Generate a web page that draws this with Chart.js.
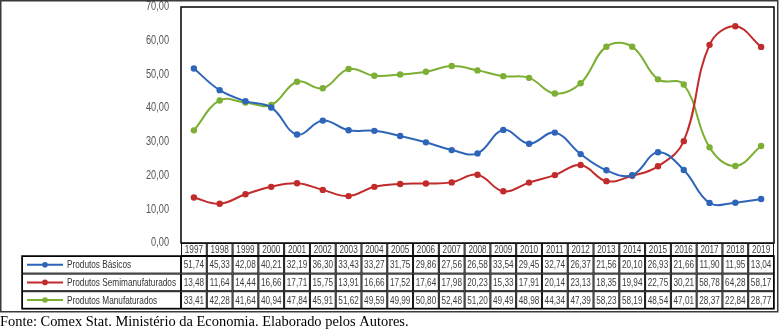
<!DOCTYPE html>
<html><head><meta charset="utf-8">
<script src="https://cdn.jsdelivr.net/npm/chart.js@4/dist/chart.umd.min.js"></script>
<style>html,body{margin:0;padding:0;background:#fff;}canvas{display:block}</style>
</head><body>
<div style="width:780px;height:330px"><canvas id="c" width="780" height="330"></canvas></div>
<script>
const years = ['1997','1998','1999','2000','2001','2002','2003','2004','2005','2006','2007','2008','2009','2010','2011','2012','2013','2014','2015','2016','2017','2018','2019'];
const basicos = [51.74,45.33,42.08,40.21,32.19,36.30,33.43,33.27,31.75,29.86,27.56,26.58,33.54,29.45,32.74,26.37,21.56,20.10,26.93,21.66,11.90,11.95,13.04];
const semimanufaturados = [13.48,11.64,14.44,16.66,17.71,15.75,13.91,16.66,17.52,17.64,17.98,20.23,15.33,17.91,20.14,23.13,18.35,19.94,22.75,30.21,58.78,64.28,58.17];
const manufaturados = [33.41,42.28,41.64,40.94,47.84,45.91,51.62,49.59,49.99,50.80,52.48,51.20,49.49,48.98,44.34,47.39,58.23,58.19,48.54,47.01,28.37,22.84,28.77];
const seriesNames = ['Produtos Básicos','Produtos Semimanufaturados','Produtos Manufaturados'];
const seriesColors = ['#2F65B9','#C22B2B','#7DAF35'];
const yMin = 0, yMax = 70, yStep = 10;
const sourceNote = 'Fonte: Comex Stat. Ministério da Economia. Elaborado pelos Autores.';

const seriesData = [basicos, semimanufaturados, manufaturados];
const fmt = v => v.toFixed(2).replace('.', ',');
const FAMILY = '"Liberation Sans", Arial, sans-serif';

function narrow(ctx, text, x, y, align, sq, size) {
  ctx.save();
  ctx.translate(x, y);
  ctx.scale(sq, 1);
  ctx.textAlign = align;
  ctx.textBaseline = 'middle';
  ctx.font = size + 'px ' + FAMILY;
  ctx.fillText(text, 0, 0);
  ctx.restore();
}

const tablePlugin = {
  id: 'tablePlugin',
  afterDraw(chart) {
    const ctx = chart.ctx;
    const a = chart.chartArea;
    const xs = chart.scales.x;
    const ys = chart.scales.y;
    const n = years.length;
    const colW = (a.right - a.left) / n;
    const headTop = a.bottom, headBot = 256;
    const rowH = 17.6;
    const tableLeft = 22;
    const rowsTop = headBot;
    const rowsBot = rowsTop + rowH * seriesData.length;
    const TS = 11.5, YS = 12;
    ctx.save();
    ctx.font = TS + 'px ' + FAMILY;
    const numSq = 20.5 / ctx.measureText('51,74').width;
    const nameSq = 109 / ctx.measureText('Produtos Semimanufaturados').width;
    ctx.font = YS + 'px ' + FAMILY;
    const ySq = 23 / ctx.measureText('70,00').width;
    // y tick labels
    ctx.fillStyle = '#555';
    ys.ticks.forEach(t => {
      narrow(ctx, fmt(t.value), a.left - 12, ys.getPixelForValue(t.value), 'right', ySq, YS);
    });
    // plot frame
    ctx.strokeStyle = '#000';
    ctx.lineWidth = 1.5;
    ctx.strokeRect(a.left, a.top, a.right - a.left, a.bottom - a.top);
    // header grid
    ctx.lineWidth = 1;
    ctx.strokeStyle = '#111';
    for (let i = 0; i < n; i++) {
      const cx = xs.getPixelForValue(i);
      const l = cx - colW / 2;
      ctx.strokeRect(l + 0.5, headTop + 0.5, colW - 1, headBot - headTop - 1);
      ctx.fillStyle = '#3c3c3c';
      narrow(ctx, years[i], cx, (headTop + headBot) / 2 + 0.5, 'center', numSq, TS);
    }
    // rows
    for (let r = 0; r < seriesData.length; r++) {
      const top = rowsTop + r * rowH;
      const mid = top + rowH / 2;
      ctx.strokeRect(tableLeft + 0.5, top + 0.5, a.left - tableLeft - 1, rowH - 1);
      ctx.strokeStyle = seriesColors[r];
      ctx.lineWidth = 2;
      ctx.beginPath(); ctx.moveTo(27, mid); ctx.lineTo(63, mid); ctx.stroke();
      ctx.fillStyle = seriesColors[r];
      ctx.beginPath(); ctx.arc(45, mid, 2.8, 0, Math.PI * 2); ctx.fill();
      ctx.strokeStyle = '#111';
      ctx.lineWidth = 1;
      ctx.fillStyle = '#333';
      narrow(ctx, seriesNames[r], 67, mid + 0.5, 'left', nameSq, TS);
      for (let i = 0; i < n; i++) {
        const cx = xs.getPixelForValue(i);
        const l = cx - colW / 2;
        ctx.strokeRect(l + 0.5, top + 0.5, colW - 1, rowH - 1);
        ctx.fillStyle = '#3c3c3c';
        narrow(ctx, fmt(seriesData[r][i]), cx, mid + 0.5, 'center', numSq, TS);
      }
    }
    // table outer border
    ctx.lineWidth = 1.5;
    ctx.strokeStyle = '#000';
    ctx.strokeRect(tableLeft, rowsTop, a.right - tableLeft, rowsBot - rowsTop);
    // outer frame
    ctx.strokeStyle = '#3a3a3a';
    ctx.lineWidth = 1.5;
    ctx.strokeRect(0.75, 0.75, 777, 311);
    // source note
    ctx.font = '15px "Liberation Serif", "Times New Roman", serif';
    const fs = 15 * 409 / ctx.measureText(sourceNote).width;
    ctx.font = fs.toFixed(2) + 'px "Liberation Serif", "Times New Roman", serif';
    ctx.fillStyle = '#000';
    ctx.textAlign = 'left';
    ctx.textBaseline = 'middle';
    ctx.fillText(sourceNote, 0, 322);
    ctx.restore();
  }
};

new Chart(document.getElementById('c'), {
  type: 'line',
  data: {
    labels: years,
    datasets: seriesData.map((d, i) => ({
      label: seriesNames[i],
      data: d,
      borderColor: seriesColors[i],
      backgroundColor: seriesColors[i],
      borderWidth: 2,
      pointRadius: 3.2,
      pointBorderWidth: 0,
      tension: 0.4,
      fill: false,
      clip: false
    }))
  },
  options: {
    responsive: false,
    animation: false,
    devicePixelRatio: 1,
    layout: { padding: { top: 7, right: 6, left: 0, bottom: 0 } },
    plugins: { legend: { display: false }, tooltip: { enabled: false } },
    scales: {
      x: {
        offset: true,
        grid: { display: false },
        border: { display: false },
        ticks: { display: false },
        afterFit(s) { s.height = 87; }
      },
      y: {
        min: yMin, max: yMax,
        grid: { display: false, drawTicks: false },
        border: { display: false },
        ticks: { stepSize: yStep, display: false },
        afterFit(s) { s.width = 181; }
      }
    }
  },
  plugins: [tablePlugin]
});
</script>
</body></html>
